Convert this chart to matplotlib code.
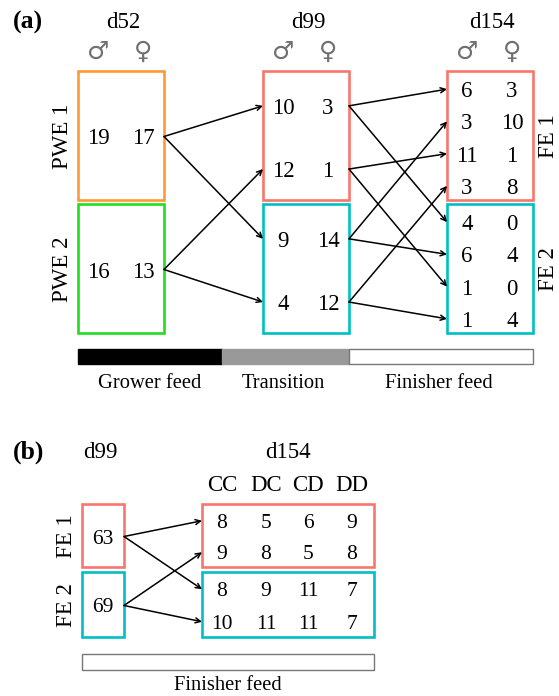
import numpy as np
import matplotlib.pyplot as plt
from matplotlib.patches import Rectangle

# Panel (a) data
days_a = ['d52', 'd99', 'd154']
groups_a = ['PWE 1', 'PWE 2']
groups_fe = ['FE 1', 'FE 2']
d52 = [[19, 17], [16, 13]]
d99 = [[10, 3], [12, 1], [9, 14], [4, 12]]
d154 = [[6, 3], [3, 10], [11, 1], [3, 8], [4, 0], [6, 4], [1, 0], [1, 4]]
links_52_99 = [(0, 0), (0, 2), (1, 1), (1, 3)]
links_99_154 = [(0, 0), (0, 4), (1, 2), (1, 6), (2, 1), (2, 5), (3, 3), (3, 7)]
feeds = ['Grower feed', 'Transition', 'Finisher feed']

# Panel (b) data
d99_b = [63, 69]
genotypes = ['CC', 'DC', 'CD', 'DD']
d154_b = [[8, 5, 6, 9], [9, 8, 5, 8], [8, 9, 11, 7], [10, 11, 11, 7]]
links_b = [(0, 0), (0, 2), (1, 1), (1, 3)]

# colours
c_pwe = ['#FF9933', '#22DD22']
c_fe = ['#F8766D', '#00BFC4']
c_feed = ['black', '#999999', 'white']

plt.rcParams['font.family'] = ['Liberation Serif', 'DejaVu Serif']
fs = 16.5
fig = plt.figure(figsize=(5.59, 6.96), dpi=100)
ax = fig.add_axes([0, 0, 1, 1])
ax.set_xlim(0, 559)
ax.set_ylim(696, 0)
ax.axis('off')

def box(x, y, w, h, color):
    ax.add_patch(Rectangle((x, y), w, h, fill=False, ec=color, lw=1.9))

def arrow(x0, y0, x1, y1):
    ax.annotate('', xy=(x1, y1), xytext=(x0, y0),
                arrowprops=dict(arrowstyle='->', lw=1.1, color='black',
                                shrinkA=0, shrinkB=0, mutation_scale=9))

def num(x, y, v, size=fs):
    ax.text(x, y, str(v), ha='center', va='center_baseline', fontsize=size)

# ---- panel (a) ----
col_x = [78, 263, 447]
bw = 86
top = 71
bh = 129
gap = 4
ax.text(13, 20, '(a)', fontsize=18.5, fontweight='bold', va='center_baseline')
for i, d in enumerate(days_a):
    cx = col_x[i] + bw / 2
    ax.text(cx + 2, 20, d, ha='center', va='center_baseline', fontsize=fs)
    ax.text(col_x[i] + 20, 52, '\u2642', ha='center', va='center', fontsize=18,
            color='#707070', family=['DejaVu Sans'])
    ax.text(col_x[i] + 65, 52, '\u2640', ha='center', va='center', fontsize=18,
            color='#707070', family=['DejaVu Sans'])

ys_box = [top, top + bh + gap]
# d52 boxes
y52 = []
for g in range(2):
    box(col_x[0], ys_box[g], bw, bh, c_pwe[g])
    yc = ys_box[g] + bh / 2 + 1
    y52.append(yc)
    num(col_x[0] + 20, yc, d52[g][0])
    num(col_x[0] + 65, yc, d52[g][1])
    ax.text(col_x[0] - 15, yc, groups_a[g], rotation=90, ha='center',
            va='center', fontsize=fs)

# d99 boxes
y99 = []
for g in range(2):
    box(col_x[1], ys_box[g], bw, bh, c_fe[g])
    for k, f in enumerate([0.27, 0.76]):
        y99.append(ys_box[g] + bh * f)
for r, vals in enumerate(d99):
    num(col_x[1] + 20, y99[r], vals[0])
    num(col_x[1] + 65, y99[r], vals[1])

# d154 boxes
y154 = []
for g in range(2):
    box(col_x[2], ys_box[g], bw, bh, c_fe[g])
    for k in range(4):
        y154.append(ys_box[g] + bh * (k + 0.5) / 4 + 2)
    ax.text(col_x[2] + bw + 16, ys_box[g] + bh / 2 + 1, groups_fe[g],
            rotation=90, ha='center', va='center', fontsize=fs)
for r, vals in enumerate(d154):
    num(col_x[2] + 20, y154[r], vals[0])
    num(col_x[2] + 65, y154[r], vals[1])

for s, t in links_52_99:
    arrow(col_x[0] + bw, y52[s], col_x[1], y99[t])
for s, t in links_99_154:
    arrow(col_x[1] + bw, y99[s], col_x[2], y154[t])

# feed bar
bar_x = [78, 222, 349, 533]
for i in range(3):
    ax.add_patch(Rectangle((bar_x[i], 349), bar_x[i + 1] - bar_x[i], 15,
                           fc=c_feed[i], ec='#777777' if i == 2 else c_feed[i], lw=1))
    ax.text((bar_x[i] + bar_x[i + 1]) / 2 + (0 if i == 0 else -2), 381, feeds[i],
            ha='center', va='center_baseline', fontsize=14.8)

# ---- panel (b) ----
ax.text(13, 450, '(b)', fontsize=18.5, fontweight='bold', va='center_baseline')
ax.text(100, 450, 'd99', ha='center', va='center_baseline', fontsize=fs)
ax.text(288, 450, 'd154', ha='center', va='center_baseline', fontsize=fs)
gx = [222, 266, 308, 352]
for j, gname in enumerate(genotypes):
    ax.text(gx[j], 483, gname, ha='center', va='center_baseline', fontsize=fs)

bys = [504, 572]
bbh = [63, 65]
yb = []
for g in range(2):
    box(82, bys[g], 42, bbh[g], c_fe[g])
    box(202, bys[g], 172, bbh[g], c_fe[g])
    yc = bys[g] + bbh[g] / 2 + 1
    num(103, yc, d99_b[g], size=15.5)
    ax.text(66, yc, groups_fe[g], rotation=90, ha='center', va='center', fontsize=fs)
    yb.append(yc)
yrow = []
for g in range(2):
    for k in range(2):
        yrow.append(bys[g] + bbh[g] * (k + 0.5) / 2 + 1)
for r, vals in enumerate(d154_b):
    for j, v in enumerate(vals):
        num(gx[j], yrow[r], v, size=15.5)
for s, t in links_b:
    arrow(124, yb[s], 202, yrow[t])

ax.add_patch(Rectangle((82, 654), 292, 16, fc='white', ec='#777777', lw=1))
ax.text(228, 690, feeds[2], ha='center', va='baseline', fontsize=14.8)

fig.savefig('out.png', dpi=100)
